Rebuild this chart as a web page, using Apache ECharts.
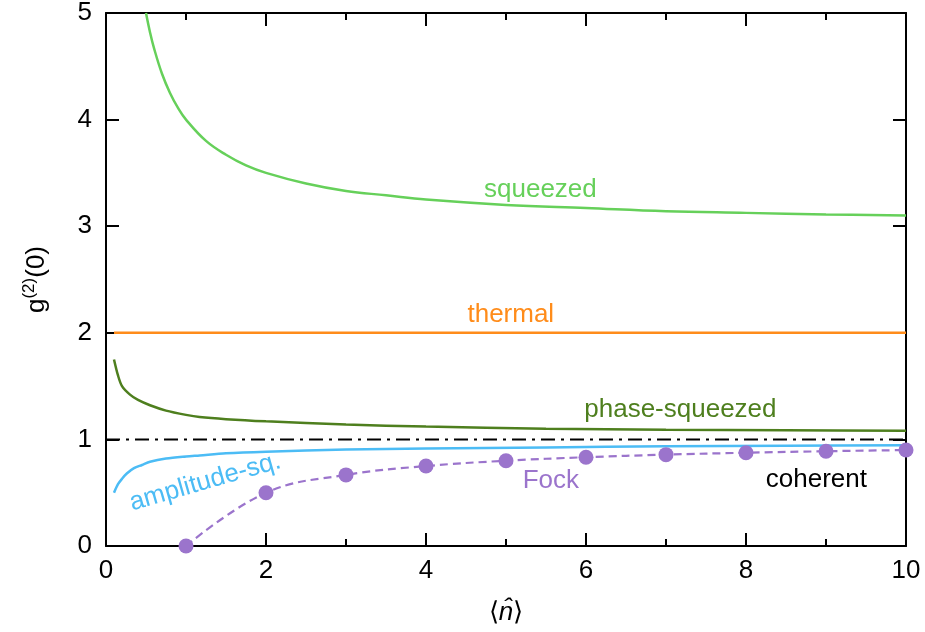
<!DOCTYPE html>
<html><head><meta charset="utf-8">
<script src="https://cdn.jsdelivr.net/npm/echarts@6/dist/echarts.min.js"></script>
<style>html,body{margin:0;padding:0;background:#fff}#c{width:925px;height:632px}</style>
</head><body><div id="c"></div>
<script>
// Data
const squeezedX = [0.5,0.55,0.6,0.7,0.8,0.9,1,1.25,1.5,1.75,2,2.5,3,3.5,4,5,6,7,8,9,10];
const squeezedY = [5,4.82,4.67,4.43,4.25,4.11,4.0,3.8,3.67,3.57,3.5,3.4,3.33,3.29,3.25,3.2,3.17,3.14,3.125,3.11,3.1];
const thermalX = [0.1,10];
const thermalY = [2,2];
const phaseX = [0.1,0.15,0.2,0.3,0.4,0.55,0.75,1,1.17,1.5,2,3,4,5.5,7,8.5,10];
const phaseY = [1.75,1.6,1.5,1.42,1.37,1.32,1.27,1.23,1.21,1.19,1.17,1.14,1.12,1.10,1.09,1.085,1.08];
const ampX = [0.1,0.15,0.2,0.26,0.35,0.45,0.55,0.75,1,1.17,1.5,2,3,4,5.5,7,8.5,10];
const ampY = [0.5,0.58,0.63,0.68,0.73,0.76,0.79,0.82,0.84,0.85,0.87,0.885,0.905,0.915,0.925,0.935,0.94,0.945];
const coherentX = [0,10];
const coherentY = [1,1];
const fockX = [1,2,3,4,5,6,7,8,9,10];
const fockY = [0,0.5,0.667,0.75,0.8,0.833,0.857,0.875,0.889,0.9];
const xTicks = [0,2,4,6,8,10];
const yTicks = [0,1,2,3,4,5];
const labelNames = ['squeezed','thermal','phase-squeezed','amplitude-sq.','Fock','coherent'];
const labelX = [5.43,5.06,7.18,1.24,5.56,8.88];
const labelY = [3.34,2.17,1.28,0.6,0.61,0.62];
const labelRot = [0,0,0,16,0,0];

const C = {sq:'#66d05a', th:'#ff8c1a', ph:'#4e7f1e', amp:'#4cbcf5', fock:'#9b74cc', coh:'#000000'};
const labelColors = [C.sq,C.th,C.ph,C.amp,C.fock,C.coh];
const zip = (a,b)=>a.map((v,i)=>[v,b[i]]);
const FONT = 'Liberation Sans, Arial, sans-serif';

const tickStyle = {show:true,inside:true,length:13,lineStyle:{color:'#000',width:2}};
const minorStyle = {show:true,splitNumber:2,length:7,lineStyle:{color:'#000',width:2}};
const axisCommon = {
  min:0, axisLine:{show:true,onZero:false,lineStyle:{color:'#000',width:2}},
  splitLine:{show:false}, minorSplitLine:{show:false}
};
const chart = echarts.init(document.getElementById('c'));
chart.setOption({
  animation:false,
  grid:{left:106,right:19,top:13,bottom:86},
  xAxis:[
    Object.assign({}, axisCommon, {type:'value',max:10,interval:2,position:'bottom',
      axisTick:tickStyle, minorTick:minorStyle,
      axisLabel:{show:true,fontSize:26,color:'#000',fontFamily:FONT,margin:12,
        formatter:v=>xTicks.includes(v)?String(v):''},
      name:'{l|⟨}{n|n̂}{l|⟩}', nameLocation:'middle', nameGap:54,
      nameTextStyle:{rich:{l:{fontSize:26,fontFamily:FONT,color:'#000'},n:{fontSize:26,fontStyle:'italic',fontFamily:FONT,color:'#000'}}}
    }),
    Object.assign({}, axisCommon, {type:'value',max:10,interval:2,position:'top',
      axisTick:tickStyle, minorTick:minorStyle, axisLabel:{show:false}})
  ],
  yAxis:[
    Object.assign({}, axisCommon, {type:'value',max:5,interval:1,position:'left',
      axisTick:tickStyle,
      axisLabel:{show:true,fontSize:26,color:'#000',fontFamily:FONT,margin:14,
        formatter:v=>yTicks.includes(v)?String(v):''},
      name:'{g|g}{s|(2)}{g|(0)}', nameLocation:'middle', nameGap:54, nameRotate:90,
      nameTextStyle:{rich:{g:{fontSize:26,fontFamily:FONT,color:'#000'},s:{fontSize:17,fontFamily:FONT,color:'#000',verticalAlign:'top',padding:[0,0,14,0]}}}
    }),
    Object.assign({}, axisCommon, {type:'value',max:5,interval:1,position:'right',
      axisTick:tickStyle, axisLabel:{show:false}})
  ],
  series:[
    {type:'line',data:zip(squeezedX,squeezedY),smooth:0.4,showSymbol:false,lineStyle:{color:C.sq,width:2.5},z:3},
    {type:'line',data:zip(thermalX,thermalY),showSymbol:false,lineStyle:{color:C.th,width:2.5}},
    {type:'line',data:zip(phaseX,phaseY),smooth:0.3,showSymbol:false,lineStyle:{color:C.ph,width:2.5}},
    {type:'line',data:zip(coherentX,coherentY),showSymbol:false,lineStyle:{color:C.coh,width:2,type:[14,6,3,6]}},
    {type:'line',data:zip(ampX,ampY),smooth:0.3,showSymbol:false,lineStyle:{color:C.amp,width:2.5}},
    {type:'line',data:zip(fockX,fockY),smooth:0.4,symbol:'circle',symbolSize:15,showSymbol:true,
      itemStyle:{color:C.fock,opacity:1},lineStyle:{color:C.fock,width:2.2,type:[8,5]},z:4},
    {type:'scatter',symbolSize:0,silent:true,z:5,itemStyle:{opacity:1},
      data:labelNames.map((n,i)=>({value:[labelX[i],labelY[i]],
        label:{show:true,position:'inside',formatter:n,rotate:labelRot[i],color:labelColors[i],fontSize:26,fontFamily:FONT}}))}
  ]
});
</script></body></html>
